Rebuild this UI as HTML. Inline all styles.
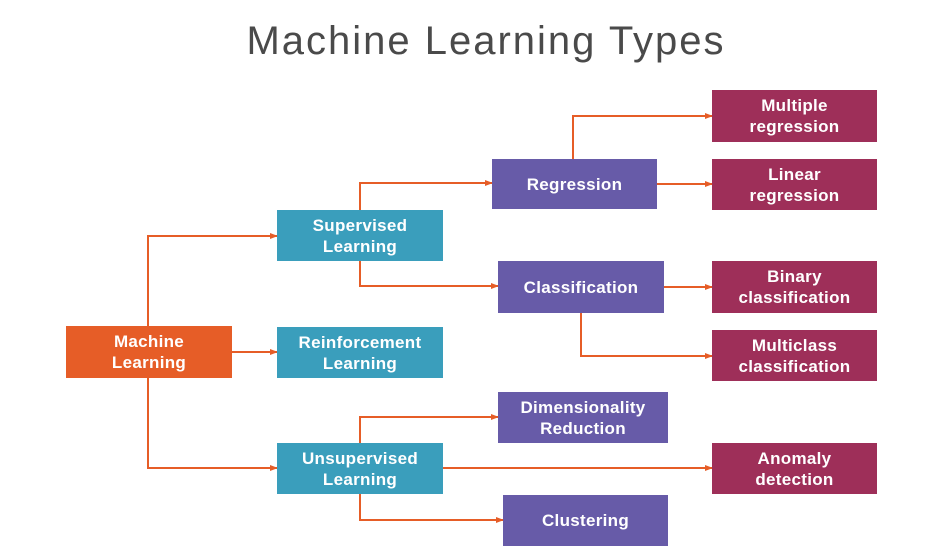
<!DOCTYPE html>
<html><head><style>
body{margin:0;background:#fff;width:949px;height:560px;overflow:hidden;position:relative;font-family:"Liberation Sans",sans-serif}
.t{position:absolute;left:0;width:972px;top:19px;text-align:center;font-size:40px;color:#4a4a4a;font-weight:normal;letter-spacing:2px}
.b{position:absolute;display:flex;align-items:center;justify-content:center;text-align:center;color:#fff;font-size:17px;font-weight:bold;line-height:21px;letter-spacing:0.3px}
.o{background:#e65d27}.c{background:#3a9ebc}.p{background:#675ba8}.m{background:#9e2f59}
svg{position:absolute;left:0;top:0}
</style></head><body>
<div class="t">Machine Learning Types</div>
<svg width="949" height="560">
<defs><marker id="a" markerWidth="8" markerHeight="8" refX="7" refY="4" orient="auto" markerUnits="userSpaceOnUse"><path d="M0,1 L8,4 L0,7z" fill="#e65d27"/></marker></defs>
<g stroke="#e65d27" stroke-width="2" fill="none" marker-end="url(#a)">
<path d="M148 326 V236 H277"/>
<path d="M232 352 H277"/>
<path d="M148 378 V468 H277"/>
<path d="M360 210 V183 H492"/>
<path d="M360 261 V286 H498"/>
<path d="M573 159 V116 H712"/>
<path d="M657 184 H712"/>
<path d="M664 287 H712"/>
<path d="M581 313 V356 H712"/>
<path d="M360 443 V417 H498"/>
<path d="M443 468 H712"/>
<path d="M360 494 V520 H503"/>
</g></svg>
<div class="b o" style="left:66px;top:326px;width:166px;height:52px">Machine<br>Learning</div>
<div class="b c" style="left:277px;top:210px;width:166px;height:51px">Supervised<br>Learning</div>
<div class="b c" style="left:277px;top:327px;width:166px;height:51px">Reinforcement<br>Learning</div>
<div class="b c" style="left:277px;top:443px;width:166px;height:51px">Unsupervised<br>Learning</div>
<div class="b p" style="left:492px;top:159px;width:165px;height:50px">Regression</div>
<div class="b p" style="left:498px;top:261px;width:166px;height:52px">Classification</div>
<div class="b p" style="left:498px;top:392px;width:170px;height:51px">Dimensionality<br>Reduction</div>
<div class="b p" style="left:503px;top:495px;width:165px;height:51px">Clustering</div>
<div class="b m" style="left:712px;top:90px;width:165px;height:52px">Multiple<br>regression</div>
<div class="b m" style="left:712px;top:159px;width:165px;height:51px">Linear<br>regression</div>
<div class="b m" style="left:712px;top:261px;width:165px;height:52px">Binary<br>classification</div>
<div class="b m" style="left:712px;top:330px;width:165px;height:51px">Multiclass<br>classification</div>
<div class="b m" style="left:712px;top:443px;width:165px;height:51px">Anomaly<br>detection</div>
</body></html>
